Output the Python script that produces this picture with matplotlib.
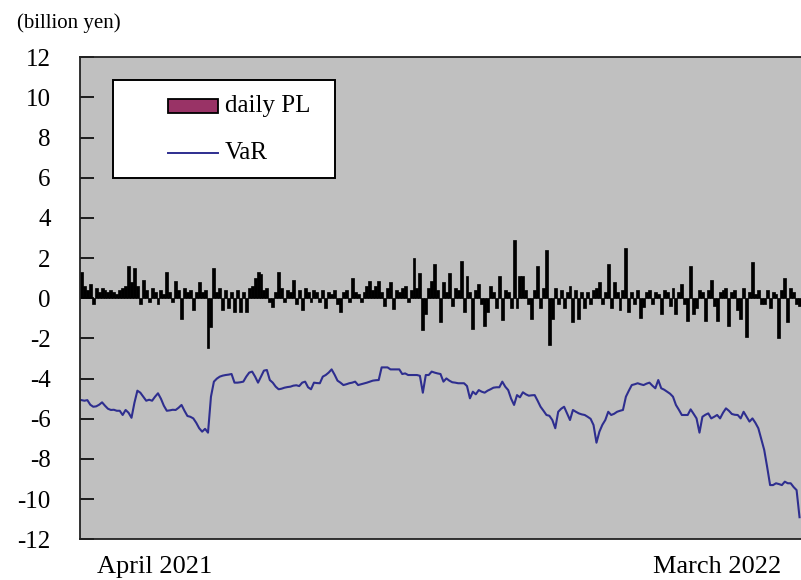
import matplotlib
matplotlib.use("Agg")
import matplotlib.pyplot as plt
from matplotlib.patches import Rectangle
from matplotlib.lines import Line2D
import numpy as np

# ---------------- data ----------------
daily_pl = [
    1.3, 0.6, 0.4, 0.7, -0.3, 0.5, 0.3, 0.5, 0.4, 0.3,
    0.4, 0.3, 0.2, 0.4, 0.5, 0.6, 1.6, 0.8, 1.5, 0.6,
    -0.3, 0.9, 0.4, -0.2, 0.5, 0.3, -0.3, 0.4, 0.2, 1.3,
    0.3, -0.2, 0.86, 0.4, -1.05, 0.5, 0.3, 0.4, -0.6, 0.3,
    0.8, 0.3, 0.4, -2.45, -1.45, 1.5, 0.3, 0.5, -0.6, 0.4,
    -0.5, 0.3, -0.7, 0.4, -0.7, 0.3, -0.7, 0.5, 0.6, 1.0,
    1.3, 1.2, 0.4, 0.5, -0.2, -0.45, 0.3, 1.3, 0.5, -0.2,
    0.4, 0.3, 0.9, -0.3, 0.4, -0.6, 0.5, 0.3, -0.2, 0.4,
    0.3, -0.2, 0.4, -0.5, 0.3, 0.2, 0.4, -0.3, -0.7, 0.3,
    0.4, -0.2, 1.0, 0.3, 0.2, -0.2, 0.3, 0.6, 0.85, 0.4,
    0.6, 0.85, 0.3, -0.4, 0.5, 0.8, -0.55, 0.4, 0.3, 0.5,
    0.6, -0.2, 0.4, 2.0, 0.5, 1.25, -1.6, -0.8, 0.5, 0.85,
    1.7, 0.4, -1.2, 0.8, 0.3, 1.25, -0.4, 0.5, 0.4, 1.85,
    -0.7, 1.1, 0.3, -1.55, 0.4, 0.7, -0.3, -1.4, -0.7, 0.6,
    0.3, -0.5, 1.1, -1.1, 0.4, 0.3, -0.5, 2.9, -0.5, 1.1,
    1.1, 0.4, -0.3, -1.05, 0.4, 1.6, -0.5, 0.5, 2.4, -2.35,
    -1.05, 0.5, -0.3, 0.4, -0.5, 0.3, 0.6, -1.2, 0.4, -1.05,
    0.3, -0.5, 0.3, -0.3, 0.4, 0.5, 0.8, -0.3, 0.3, 1.7,
    -0.5, 0.8, 0.3, -0.6, 0.4, 2.5, -0.7, 0.3, -0.3, 0.4,
    -1.0, -0.45, 0.3, 0.4, -0.3, 0.3, 0.2, -0.8, 0.4, 0.3,
    -0.4, 0.5, -0.8, 0.3, 0.7, -0.3, -1.15, 1.6, -0.8, -0.5,
    0.4, 0.3, -1.15, 0.4, 0.9, -0.4, -1.15, 0.3, 0.4, 0.5,
    -1.4, 0.3, 0.4, -0.6, -1.05, 0.5, -1.95, 0.3, 1.8, 0.2,
    0.4, -0.3, -0.3, 0.4, -0.5, 0.3, 0.2, -2.0, 0.4, 1.0,
    -1.2, 0.5, 0.3, -0.3, -0.4,
]

var_values = [
    -5.07, -5.1, -5.07, -5.3, -5.4, -5.38, -5.3, -5.18, -5.35, -5.5,
    -5.56, -5.55, -5.6, -5.6, -5.81, -5.56, -5.7, -5.95, -5.2, -4.6,
    -4.7, -4.9, -5.1, -5.05, -5.1, -4.9, -4.73, -5.0, -5.35, -5.6,
    -5.58, -5.55, -5.56, -5.45, -5.31, -5.6, -5.86, -5.9, -5.98, -6.2,
    -6.47, -6.64, -6.5, -6.69, -4.9, -4.15, -4.0, -3.9, -3.85, -3.82,
    -3.8, -3.77, -4.2, -4.2, -4.18, -4.15, -3.9, -3.7, -3.65, -3.9,
    -4.2, -3.9, -3.6, -3.57, -4.07, -4.2, -4.4, -4.53, -4.5, -4.45,
    -4.42, -4.4, -4.35, -4.33, -4.37, -4.2, -4.15, -4.43, -4.53, -4.2,
    -4.22, -4.23, -3.9, -3.82, -3.7, -3.54, -3.8, -4.1, -4.2, -4.32,
    -4.28, -4.23, -4.2, -4.15, -4.32, -4.28, -4.24, -4.2, -4.15, -4.1,
    -4.08, -4.07, -3.44, -3.44, -3.44, -3.54, -3.54, -3.54, -3.54, -3.77,
    -3.74, -3.82, -3.82, -3.82, -3.82, -3.86, -4.7, -3.82, -3.82, -3.65,
    -3.7, -3.74, -3.77, -4.15, -3.99, -4.1, -4.18, -4.2, -4.23, -4.23,
    -4.23, -4.37, -4.98, -4.65, -4.78, -4.57, -4.65, -4.7, -4.6, -4.53,
    -4.45, -4.43, -4.43, -4.15, -4.4, -4.57, -5.0, -5.31, -4.82, -4.93,
    -4.68, -4.78, -4.85, -4.83, -4.82, -5.1, -5.4, -5.6, -5.81, -5.85,
    -6.06, -6.47, -5.65, -5.5, -5.4, -5.73, -6.06, -5.56, -5.65, -5.73,
    -5.78, -5.81, -5.9, -6.0, -6.31, -7.19, -6.64, -6.3, -6.06, -5.65,
    -5.81, -5.75, -5.65, -5.6, -5.56, -4.9, -4.6, -4.32, -4.28, -4.23,
    -4.28, -4.32, -4.25, -4.2, -4.35, -4.48, -4.07, -4.48, -4.55, -4.65,
    -4.75, -4.9, -5.31, -5.55, -5.81, -5.81, -5.81, -5.53, -5.75, -5.98,
    -6.69, -5.9, -5.8, -5.73, -5.98, -5.9, -5.81, -5.98, -5.7, -5.48,
    -5.6, -5.76, -5.8, -5.81, -5.98, -5.65, -5.9, -6.14, -5.98, -6.2,
    -6.47, -7.0, -7.55, -8.4, -9.3, -9.3, -9.21, -9.25, -9.3, -9.13,
    -9.21, -9.21, -9.4, -9.55, -10.9,
]

y_ticks = [12, 10, 8, 6, 4, 2, 0, -2, -4, -6, -8, -10, -12]
x_labels = ["April 2021", "March 2022"]
unit_label = "(billion yen)"
legend_labels = ["daily PL", "VaR"]

# ---------------- styling ----------------
plt.rcParams["font.family"] = ["Liberation Serif", "DejaVu Serif"]

BAR_FACE = "#993366"
VAR_COLOR = "#2E2E8F"

W, H = 801, 580
fig = plt.figure(figsize=(W / 100, H / 100), dpi=100)
left, right = 80, 801
top, bottom = 57.3, 539.3
ax = fig.add_axes([left / W, 1 - bottom / H, (right - left) / W, (bottom - top) / H])
ax.set_facecolor("#C0C0C0")

days = np.arange(len(daily_pl))
ax.bar(days, daily_pl, width=1.0, color="black", edgecolor="black", linewidth=0.5)
ax.plot(np.arange(len(var_values)), var_values, color=VAR_COLOR, linewidth=1.5)

ax.set_xlim(-0.5, len(daily_pl) - 0.5)
ax.set_ylim(-12, 12)
ax.set_yticks(y_ticks)
ax.set_yticklabels([str(t) for t in y_ticks], fontsize=18)
ax.set_xticks([])
ax.tick_params(axis="y", direction="in", length=10, width=1.2, pad=21, colors="black")

for s in ["left", "bottom", "top"]:
    ax.spines[s].set_linewidth(1.3)
    ax.spines[s].set_color("#222222")
ax.spines["right"].set_visible(False)

# x labels
ax.text(0.104, -0.034, x_labels[0], transform=ax.transAxes, ha="center", va="top", fontsize=19)
ax.text(0.883, -0.034, x_labels[1], transform=ax.transAxes, ha="center", va="top", fontsize=19)

# unit label
fig.text(17 / W, 1 - 23 / H, unit_label, ha="left", va="center", fontsize=15)

# legend drawn in figure pixel coordinates
def fx(px):
    return px / W

def fy(py):
    return 1 - py / H

frame = Rectangle((fx(113), fy(178)), fx(335) - fx(113), fy(80) - fy(178),
                  transform=fig.transFigure, facecolor="white", edgecolor="black",
                  linewidth=1.4, zorder=5)
fig.add_artist(frame)
patch = Rectangle((fx(168), fy(113)), fx(218) - fx(168), fy(99) - fy(113),
                  transform=fig.transFigure, facecolor=BAR_FACE, edgecolor="black",
                  linewidth=1.3, zorder=6)
fig.add_artist(patch)
fig.add_artist(Line2D([fx(168), fx(218)], [fy(153), fy(153)], transform=fig.transFigure,
                      color=VAR_COLOR, linewidth=1.4, zorder=6))
fig.text(fx(225), fy(106), legend_labels[0], ha="left", va="center", fontsize=18, zorder=7)
fig.text(fx(225), fy(153), legend_labels[1], ha="left", va="center", fontsize=18, zorder=7)

fig.savefig("out.png", dpi=100)
